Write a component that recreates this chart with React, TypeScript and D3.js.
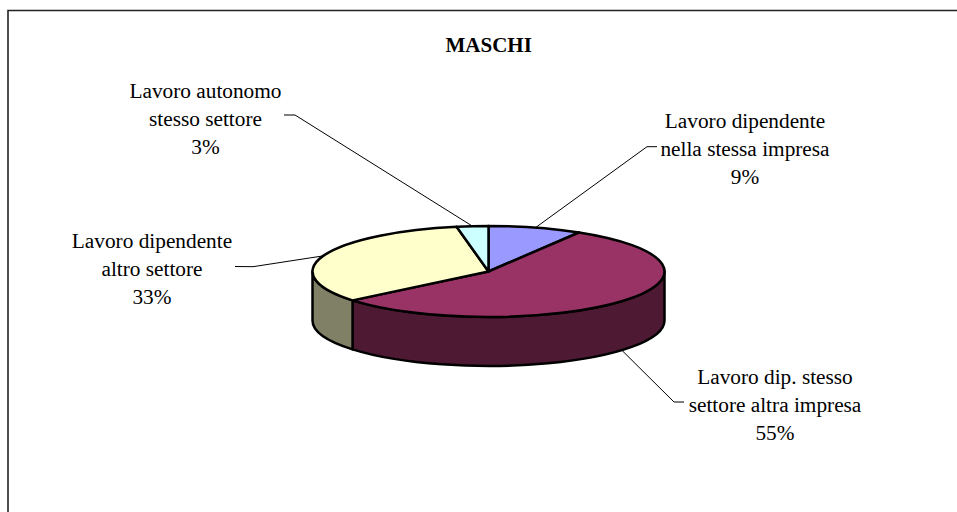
import React from "react";
import * as d3 from "d3";

const title = "MASCHI";
const labelLines = [
  ["Lavoro dipendente", "nella stessa impresa"],
  ["Lavoro dip. stesso", "settore altra impresa"],
  ["Lavoro dipendente", "altro settore"],
  ["Lavoro autonomo", "stesso settore"],
];
const values = [8.6, 55.45, 33.05, 2.9];
const topColors = ["#9999FF", "#993366", "#FFFFCC", "#CCFFFF"];
const sideColors = ["#4D4D80", "#4D1933", "#808066", "#668080"];
const labelCenters = [[745, 128], [775, 384], [152, 248], [205.5, 98]];
const leaderElbows = [
  [[647, 146.7], [657, 146.7]],
  [[674, 402], [684, 402]],
  [[253, 266.7], [235, 266.5]],
  [[295, 115], [284, 115]],
];

const W = 957, H = 512;
const cx = 488.5, cy = 271.5, rx = 176, ry = 45.5, depth = 49;
const font = "'Liberation Serif', 'Times New Roman', serif";
const sw = 2.5;

export default function App() {
  const arcs = d3.pie<number>().sort(null)(values);
  const ellipse = (a: number, dy = 0): [number, number] => [
    cx + rx * Math.sin(a),
    cy + dy - ry * Math.cos(a),
  ];
  const arcGen = d3.arc();
  const sy = ry / rx;
  const side = (a0: number, a1: number) => {
    const s = Math.max(a0, Math.PI / 2), e = Math.min(a1, (3 * Math.PI) / 2);
    if (e <= s) return null;
    const p0 = ellipse(s), p1 = ellipse(e);
    return `M${p0}A${rx},${ry} 0 0 1 ${p1}L${p1[0]},${p1[1] + depth}A${rx},${ry} 0 0 0 ${p0[0]},${p0[1] + depth}Z`;
  };
  const line = d3.line();
  return (
    <svg
      width={W}
      height={H}
      viewBox={`0 0 ${W} ${H}`}
      style={{ position: "absolute", left: 0, top: 0, display: "block" }}
    >
      <rect x={0} y={0} width={W} height={H} fill="#fff" />
      <path d={`M8,${H}V10.5H${W}`} fill="none" stroke="#222" strokeWidth={1.6} />
      <text x={488.7} y={52} textAnchor="middle" fontFamily={font} fontWeight="bold" fontSize={21} fill="#000">
        {title}
      </text>
      {arcs.map((d, i) => {
        const mid = (d.startAngle + d.endAngle) / 2;
        const front = Math.cos(mid) < 0 ? depth : 0;
        const start = ellipse(mid, front);
        const pts = [start, ...leaderElbows[i]] as [number, number][];
        return <path key={i} d={line(pts) as string} fill="none" stroke="#000" strokeWidth={1} />;
      })}
      {arcs.map((d, i) => {
        const p = side(d.startAngle, d.endAngle);
        return p ? <path key={i} d={p} fill={sideColors[i]} stroke="#000" strokeWidth={sw} strokeLinejoin="round" /> : null;
      })}
      <g transform={`translate(${cx},${cy}) scale(1,${sy})`}>
        {arcs.map((d, i) => (
          <path
            key={i}
            d={arcGen({ innerRadius: 0, outerRadius: rx, startAngle: d.startAngle, endAngle: d.endAngle }) as string}
            fill={topColors[i]}
            stroke="#000"
            strokeWidth={sw}
            strokeLinejoin="round"
            vectorEffect="non-scaling-stroke"
          />
        ))}
      </g>
      {arcs.map((d, i) => {
        const [x, y] = labelCenters[i];
        const lines = [...labelLines[i], `${Math.round(d.value)}%`];
        return (
          <text key={i} textAnchor="middle" fontFamily={font} fontSize={21.3} fill="#000">
            {lines.map((l, j) => (
              <tspan key={j} x={x} y={y + j * 28}>
                {l}
              </tspan>
            ))}
          </text>
        );
      })}
    </svg>
  );
}
